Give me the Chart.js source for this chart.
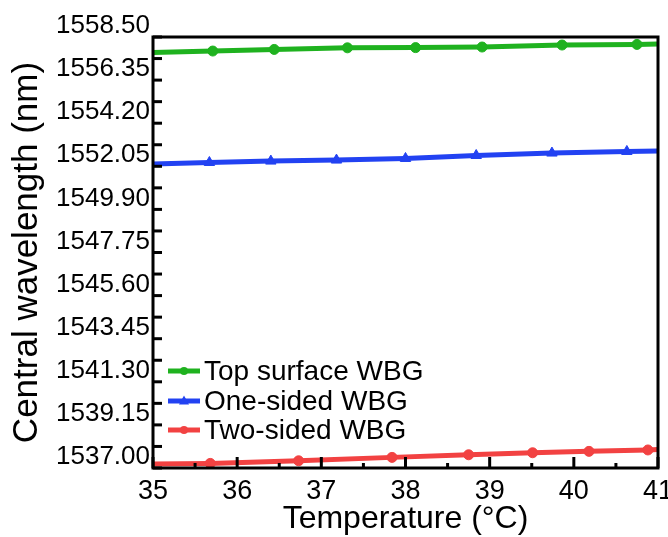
<!DOCTYPE html>
<html><head><meta charset="utf-8">
<script src="https://cdn.jsdelivr.net/npm/chart.js@4"></script>
<style>html,body{margin:0;padding:0;background:#fff}</style>
</head><body>
<canvas id="c" width="668" height="537"></canvas>
<script>
const seriesNames = ['Top surface WBG', 'One-sided WBG', 'Two-sided WBG'];
const topTemp = [35, 35.71, 36.44, 37.31, 38.12, 38.91, 39.86, 40.75, 41];
const topWl   = [1557.73, 1557.80, 1557.88, 1557.96, 1557.97, 1558.00, 1558.10, 1558.13, 1558.15];
const oneTemp = [35, 35.67, 36.40, 37.18, 38.00, 38.84, 39.74, 40.63, 41];
const oneWl   = [1552.16, 1552.24, 1552.31, 1552.36, 1552.44, 1552.59, 1552.71, 1552.79, 1552.81];
const twoTemp = [35, 35.68, 36.73, 37.84, 38.75, 39.51, 40.18, 40.88, 41];
const twoWl   = [1537.20, 1537.23, 1537.36, 1537.53, 1537.66, 1537.76, 1537.83, 1537.90, 1537.92];
const xTicks = [35, 36, 37, 38, 39, 40, 41];
const yTicks = [1537.00, 1539.15, 1541.30, 1543.45, 1545.60, 1547.75, 1549.90, 1552.05, 1554.20, 1556.35, 1558.50];

const FONT = '"Liberation Sans", Arial, sans-serif';
const colors = ['#1fb21f', '#2242f2', '#f24242'];
const styles = ['circle', 'triangle', 'circle'];
const radii = [5, 6, 5];

function pts(t, w) { return t.map((v, i) => ({x: v, y: w[i]})); }
function radiusArr(n, r) { return Array.from({length: n}, (_, i) => (i === 0 || i === n - 1) ? 0 : r); }

const sets = [[topTemp, topWl], [oneTemp, oneWl], [twoTemp, twoWl]];
const datasets = sets.map((s, i) => ({
  label: seriesNames[i],
  data: pts(s[0], s[1]),
  borderColor: colors[i],
  backgroundColor: colors[i],
  borderWidth: 5,
  pointStyle: styles[i],
  pointRadius: radiusArr(s[0].length, radii[i]),
  pointBorderWidth: 1,
  tension: 0,
}));

const framePlugin = {
  id: 'frame',
  afterDatasetsDraw(chart) {
    const {ctx, chartArea: a, scales} = chart;
    ctx.save();
    ctx.strokeStyle = '#000';
    ctx.lineWidth = 3;
    const xs = scales.x;
    for (let v = 35; v <= 41.001; v += 0.5) {
      const px = xs.getPixelForValue(v);
      const len = Math.abs(v - Math.round(v)) < 1e-6 ? 11 : 5;
      ctx.beginPath(); ctx.moveTo(px, a.bottom); ctx.lineTo(px, a.bottom - len); ctx.stroke();
    }
    const ys = scales.y;
    for (let k = 0; k <= 20; k++) {
      const v = 1537 + k * 1.075;
      const py = ys.getPixelForValue(v);
      ctx.beginPath(); ctx.moveTo(a.left, py); ctx.lineTo(a.left + 9, py); ctx.stroke();
    }
    ctx.strokeRect(a.left, a.top, a.right - a.left, a.bottom - a.top);
    // legend
    const rows = [371, 401, 430];
    chart.data.datasets.forEach((d, i) => {
      const y = rows[i];
      const x0 = a.left + 15, x1 = a.left + 47;
      ctx.strokeStyle = d.borderColor; ctx.lineWidth = 5;
      ctx.beginPath(); ctx.moveTo(x0, y); ctx.lineTo(x1, y); ctx.stroke();
      const cx = (x0 + x1) / 2;
      ctx.fillStyle = d.borderColor;
      ctx.beginPath();
      if (d.pointStyle === 'triangle') {
        const r = 5;
        ctx.moveTo(cx, y - r * 1.1); ctx.lineTo(cx + r, y + r * 0.7); ctx.lineTo(cx - r, y + r * 0.7); ctx.closePath();
      } else {
        ctx.arc(cx, y, 4, 0, Math.PI * 2);
      }
      ctx.fill();
      ctx.fillStyle = '#000';
      ctx.font = '28px ' + FONT;
      ctx.textAlign = 'left'; ctx.textBaseline = 'middle';
      ctx.fillText(d.label, x1 + 4, y + 1);
    });
    ctx.restore();
  }
};

new Chart(document.getElementById('c'), {
  type: 'line',
  data: {datasets},
  options: {
    responsive: false,
    animation: false,
    devicePixelRatio: 1,
    layout: {padding: {top: 37, right: 10, left: 0, bottom: 0}},
    plugins: {legend: {display: false}, tooltip: {enabled: false}},
    scales: {
      x: {
        type: 'linear', min: 35, max: 41,
        afterBuildTicks: s => { s.ticks = xTicks.map(v => ({value: v})); },
        afterFit: s => { s.height = 69; s.paddingLeft = 0; s.paddingRight = 0; },
        grid: {display: false, drawTicks: false},
        border: {display: false},
        ticks: {color: '#000', font: {family: FONT, size: 27}, padding: 7, maxRotation: 0, autoSkip: false},
        title: {display: true, text: 'Temperature (°C)', color: '#000', font: {family: FONT, size: 32}, padding: {top: 0, bottom: -1}}
      },
      y: {
        type: 'linear', min: 1537, max: 1558.5,
        afterBuildTicks: s => { s.ticks = yTicks.map(v => ({value: v})); },
        afterFit: s => { s.width = 153; s.paddingTop = 0; s.paddingBottom = 0; },
        grid: {display: false, drawTicks: false},
        border: {display: false},
        ticks: {color: '#000', font: {family: FONT, size: 26}, padding: 3, labelOffset: -11, autoSkip: false,
          callback: v => Number(v).toFixed(2)},
        title: {display: true, text: 'Central wavelength (nm)', color: '#000', font: {family: FONT, size: 35}, padding: {top: 6, bottom: 0}}
      }
    }
  },
  plugins: [framePlugin]
});
</script>
</body></html>
